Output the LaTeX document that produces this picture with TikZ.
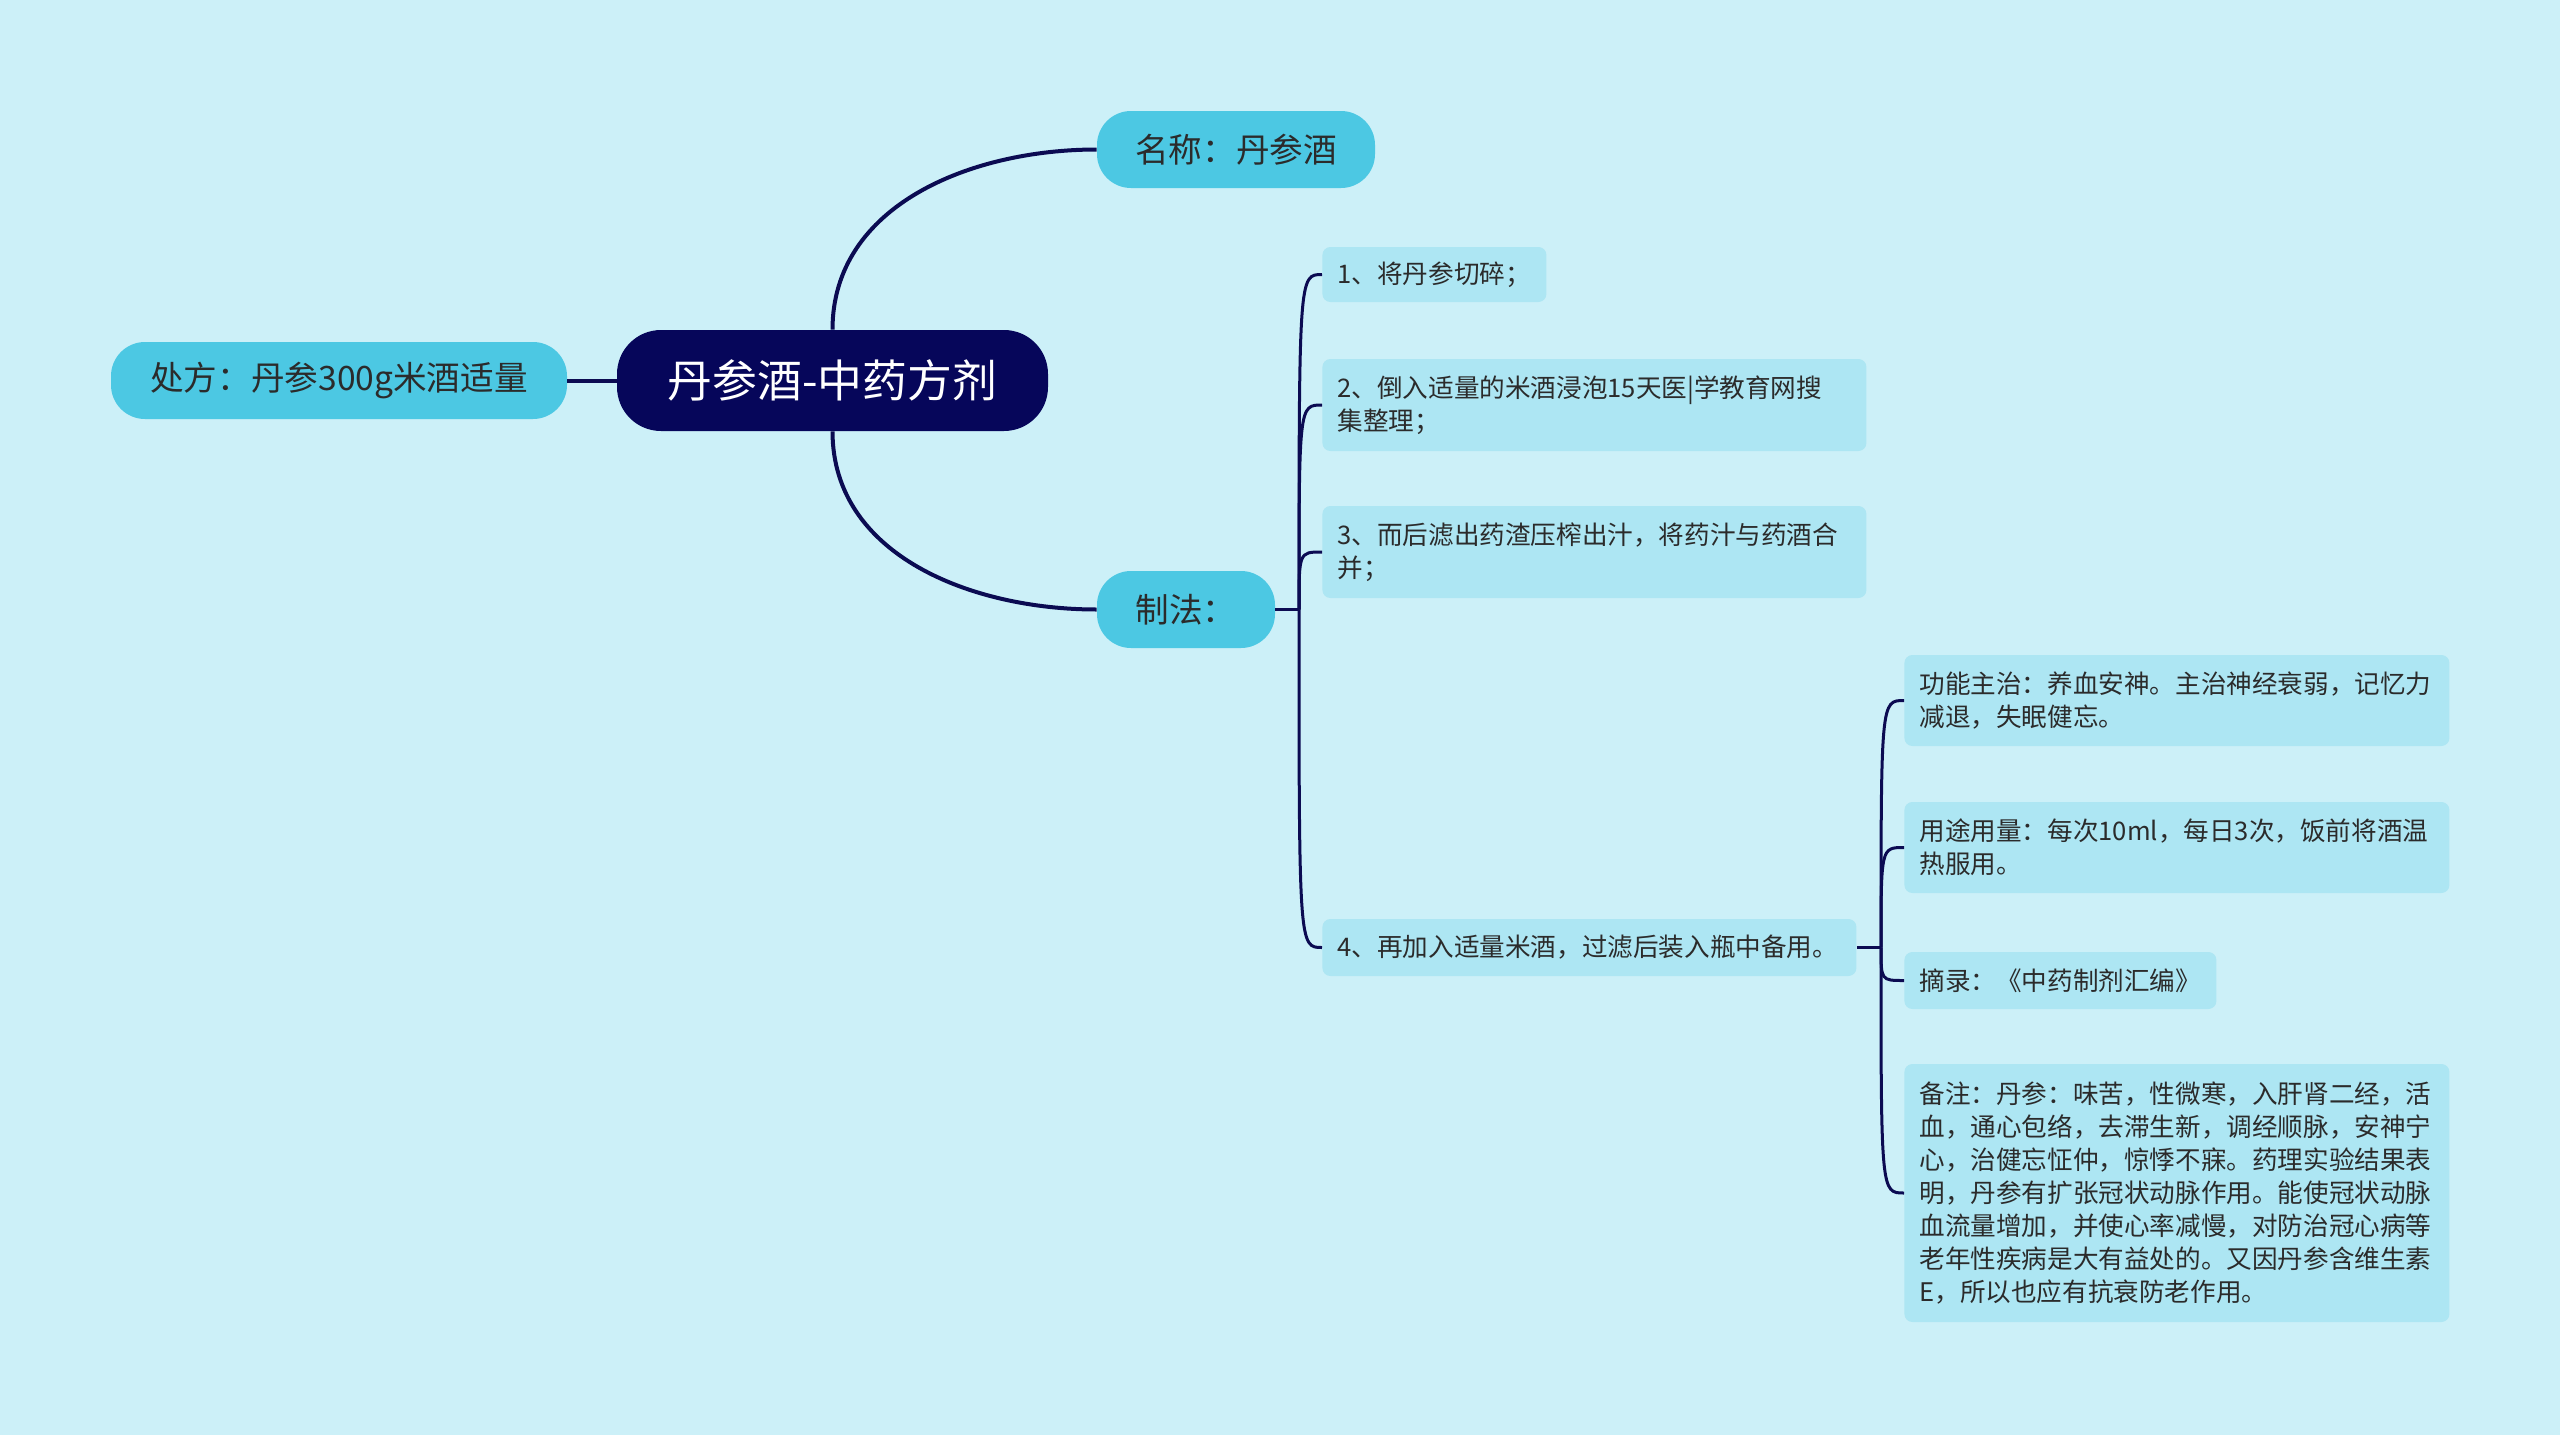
\documentclass[tikz,border=0pt]{standalone}
\usepackage{fontspec}
\setmainfont{Noto Sans CJK SC}
\definecolor{bgcyan}{HTML}{CCF0F8}
\definecolor{rootnavy}{HTML}{06065A}
\definecolor{linenavy}{HTML}{0B0B52}
\definecolor{topiccyan}{HTML}{4CC8E3}
\definecolor{leafcyan}{HTML}{ADE6F3}
\definecolor{inkgray}{HTML}{2B2B2B}

\tikzset{
  link/.style={line width=1.5pt, draw=linenavy},
  rootbox/.style={fill=rootnavy, text=white, rounded corners=22pt, inner sep=0pt,
    minimum width=215.5pt, minimum height=50.5pt, font=\fontsize{22.4}{26}\selectfont},
  topic/.style={fill=topiccyan, text=inkgray, rounded corners=17pt, inner sep=0pt,
    minimum height=38.5pt, font=\fontsize{16.8}{20}\selectfont},
  leaf/.style={fill=leafcyan, text=inkgray, rounded corners=4pt, anchor=west, align=left,
    inner xsep=7.5pt, inner ysep=6pt, font=\fontsize{12.8}{16.5}\selectfont},
}

\begin{document}
\begin{tikzpicture}[x=0.5pt,y=0.5pt]
\fill[bgcyan] (0,0) rectangle (2560,-1435);

% centre and first level
\node[rootbox] (root) at (832.5,-380.5) {丹参酒-中药方剂};
\node[topic, minimum width=228pt] (chufang) at (339,-380.5) {处方：丹参300g米酒适量};
\node[topic, minimum width=139pt] (mingcheng) at (1236,-149.5) {名称：丹参酒};
\node[topic, minimum width=89pt] (zhifa) at (1186,-609.5) {制法：};

% steps
\node[leaf, text width=97pt, minimum height=27.5pt] (buzhou1) at (1322,-274.5) {1、将丹参切碎；};
\node[leaf, text width=257pt, minimum height=46pt] (buzhou2) at (1322,-405) {2、倒入适量的米酒浸泡15天医|学教育网搜\\集整理；};
\node[leaf, text width=257pt, minimum height=46pt] (buzhou3) at (1322,-552) {3、而后滤出药渣压榨出汁，将药汁与药酒合\\并；};
\node[leaf, text width=252pt, minimum height=28.5pt] (buzhou4) at (1322,-947.5) {4、再加入适量米酒，过滤后装入瓶中备用。};

% notes under step 4
\node[leaf, text width=257.5pt, minimum height=45.5pt] (gongneng) at (1904,-700.5) {功能主治：养血安神。主治神经衰弱，记忆力\\减退，失眠健忘。};
\node[leaf, text width=257.5pt, minimum height=45.5pt] (yongliang) at (1904,-847.5) {用途用量：每次10ml，每日3次，饭前将酒温\\热服用。};
\node[leaf, text width=141pt, minimum height=28.5pt] (zhailu) at (1904,-980.5) {摘录：《中药制剂汇编》};
\node[leaf, text width=257.5pt, minimum height=129pt] (beizhu) at (1904,-1193) {备注：丹参：味苦，性微寒，入肝肾二经，活\\血，通心包络，去滞生新，调经顺脉，安神宁\\心，治健忘怔仲，惊悸不寐。药理实验结果表\\明，丹参有扩张冠状动脉作用。能使冠状动脉\\血流量增加，并使心率减慢，对防治冠心病等\\老年性疾病是大有益处的。又因丹参含维生素\\E，所以也应有抗衰防老作用。};

\coordinate (fork1) at (1299,-609.5);
\coordinate (fork2) at (1881,-947.5);

\draw[link, line width=2pt] (root.west) -- (chufang.east);
\draw[link, line width=2pt] (root.north) to[out=90, in=180] (mingcheng.west);
\draw[link, line width=2pt] (root.south) to[out=-90, in=180] (zhifa.west);

\draw[link] (zhifa.east) -- (fork1);
\foreach \n in {buzhou1,buzhou2,buzhou3,buzhou4}
  \draw[link] (fork1) .. controls (fork1 |- \n.west) .. (\n.west);

\draw[link] (buzhou4.east) -- (fork2);
\foreach \n in {gongneng,yongliang,zhailu,beizhu}
  \draw[link] (fork2) .. controls (fork2 |- \n.west) .. (\n.west);
\end{tikzpicture}
\end{document}
